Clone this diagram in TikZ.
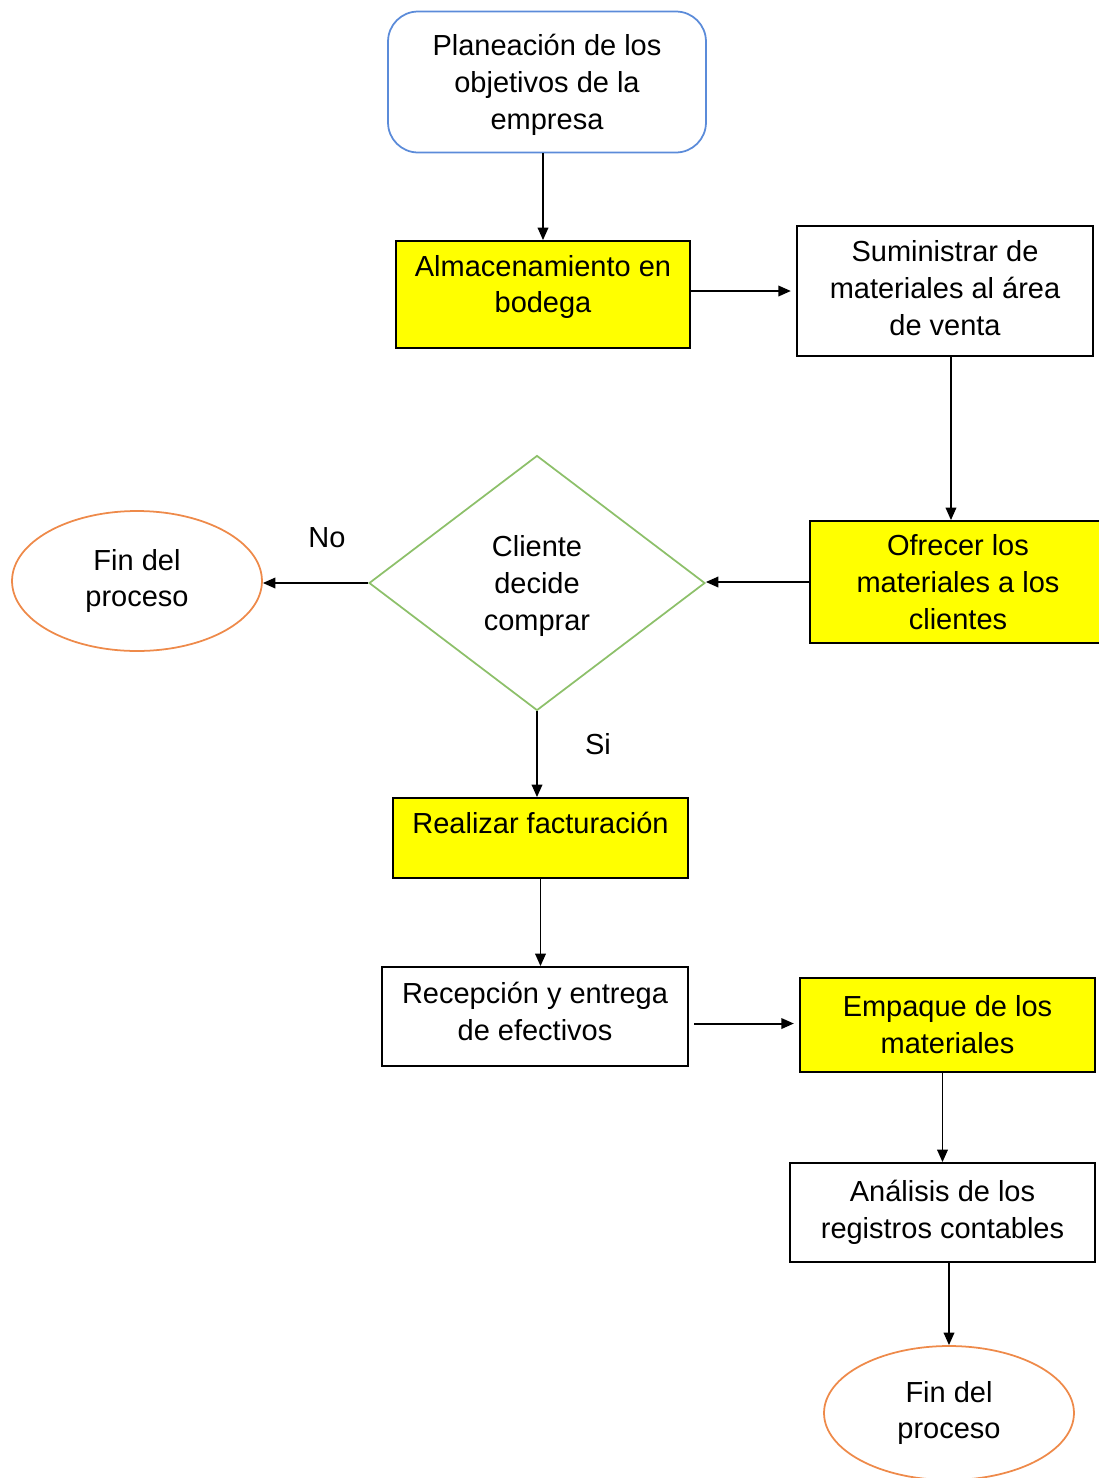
\documentclass[tikz,border=0pt]{standalone}
\usepackage{fontspec}
\setmainfont{Liberation Sans}
\usepackage{xcolor}
\usetikzlibrary{arrows.meta,shapes.geometric}
\definecolor{azulborde}{HTML}{5B8BD9}
\definecolor{verdeborde}{HTML}{8DC06A}
\definecolor{naranjaborde}{HTML}{EE8A4A}
\definecolor{amarillo}{HTML}{FFFF00}
\tikzset{
  texto/.style={font=\fontsize{16.5}{21}\selectfont, align=center, inner sep=0pt},
  caja/.style={texto, draw, line width=1pt},
  cajaam/.style={caja, fill=amarillo},
  fin/.style={texto, draw=naranjaborde, ellipse, line width=1pt, minimum width=5cm},
  flecha/.style={line width=1.1pt, -{Triangle[length=2.5mm,width=2.1mm]}}
}
\begin{document}
\begin{tikzpicture}[x=0.02cm,y=-0.02cm]
\useasboundingbox (0,0) rectangle (1099,1478);
\node[caja, draw=azulborde, rounded corners=0.6cm, minimum width=6.36cm, minimum height=2.82cm, text depth=-2pt] (plan) at (547,82) {Planeación de los\\objetivos de la\\empresa};
\node[cajaam, minimum width=5.88cm, minimum height=2.14cm, text depth=12pt] (alm) at (543,294.5) {Almacenamiento en\\bodega};
\node[caja, minimum width=5.92cm, minimum height=2.6cm, text depth=3.5pt] (sum) at (945,291) {Suministrar de\\materiales al área\\de venta};
\node[cajaam, minimum width=5.92cm, minimum height=2.44cm, text depth=-4.5pt] (ofr) at (958,582) {Ofrecer los\\materiales a los\\clientes};
\node[texto, draw=verdeborde, diamond, line width=1pt, minimum width=6.72cm, minimum height=5.1cm, text depth=-2pt] (dec) at (537,583) {Cliente\\decide\\comprar};
\node[fin, minimum height=2.8cm] (fin1) at (137,581) {Fin del\\proceso};
\node[texto] (no) at (327,538) {No};
\node[texto] (si) at (598,744) {Si};
\node[cajaam, minimum width=5.9cm, minimum height=1.6cm, text depth=17pt] (fac) at (540.5,838) {Realizar facturación};
\node[caja, minimum width=6.12cm, minimum height=1.98cm, text depth=6pt] (rec) at (535,1016.5) {Recepción y entrega\\de efectivos};
\node[cajaam, minimum width=5.9cm, minimum height=1.88cm] (emp) at (947.5,1025) {Empaque de los\\materiales};
\node[caja, minimum width=6.1cm, minimum height=1.98cm] (ana) at (942.5,1212.5) {Análisis de los\\registros contables};
\node[fin, minimum height=2.68cm] (fin2) at (949,1413) {Fin del\\proceso};
\draw[flecha] (alm.north |- plan.south) -- (alm.north);
\draw[flecha] (alm.east |- sum.west) -- ([xshift=-3pt]sum.west);
\draw[flecha] ([xshift=-4pt]sum.south -| ofr.north) -- ([xshift=-4pt]ofr.north);
\draw[flecha] (ofr.west) -- (ofr.west -| dec.east);
\draw[flecha] (dec.west) -- (dec.west -| fin1.east);
\draw[flecha] (dec.south) -- (dec.south |- fac.north);
\draw[flecha] (fac.south) -- (fac.south |- rec.north);
\draw[flecha, shorten <=3pt, shorten >=3pt] ([yshift=-4pt]rec.east) -- ([yshift=-4pt]rec.east -| emp.west);
\draw[flecha] (emp.south -| ana.north) -- (ana.north);
\draw[flecha] (ana.south -| fin2.north) -- (fin2.north);
\end{tikzpicture}
\end{document}
